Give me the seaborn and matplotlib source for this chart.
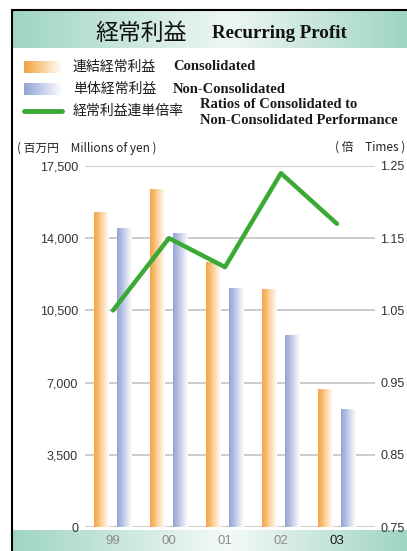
import numpy as np
import pandas as pd
import matplotlib
matplotlib.use("Agg")
import matplotlib.pyplot as plt
import seaborn as sns
from matplotlib.colors import LinearSegmentedColormap

years = ["99", "00", "01", "02", "03"]
consolidated = [15270, 16370, 12840, 11530, 6690]
non_consolidated = [14500, 14260, 11600, 9320, 5720]
ratios = [1.05, 1.15, 1.11, 1.24, 1.17]
left_ticks = [0, 3500, 7000, 10500, 14000, 17500]
right_ticks = [0.75, 0.85, 0.95, 1.05, 1.15, 1.25]
series_names = ["連結経常利益", "単体経常利益"]

W, H = 407, 551
sns.set_theme(style="white")
plt.rcParams['font.family'] = ['Liberation Sans', 'DejaVu Sans']
fig = plt.figure(figsize=(W / 100, H / 100), dpi=100)
fig.patch.set_facecolor("white")

def px_axes(x0, y0, x1, y1, **kw):
    return fig.add_axes([x0 / W, 1 - y1 / H, (x1 - x0) / W, (y1 - y0) / H], **kw)

def hgrad(ax, stops, extent=None, clip=None, zorder=1):
    cmap = LinearSegmentedColormap.from_list("g", stops)
    grad = np.linspace(0, 1, 256).reshape(1, -1)
    kw = {}
    if extent is not None:
        kw["extent"] = extent
    im = ax.imshow(grad, cmap=cmap, aspect="auto", interpolation="bicubic", zorder=zorder, **kw)
    if clip is not None:
        im.set_clip_path(clip)
    return im

teal = "#9fd5c1"
hax = px_axes(12, 10, 407, 48)
hgrad(hax, [(0, teal), (0.55, "#eef7f3"), (1, teal)])
hax.set_axis_off()
bax = px_axes(12, 530, 407, 551)
hgrad(bax, [(0, teal), (0.55, "#f4faf7"), (1, teal)])
bax.set_axis_off()

fig.add_artist(plt.Line2D([12 / W, 12 / W], [0, 1 - 10 / H], color="black", lw=1.5, transform=fig.transFigure))
fig.add_artist(plt.Line2D([12 / W, 1], [1 - 10 / H, 1 - 10 / H], color="black", lw=1.5, transform=fig.transFigure))

fig.text(187 / W, 1 - 33 / H, "経常利益", family=["Noto Sans CJK JP"], fontsize=16.5, ha="right", va="center", color="#111111")
fig.text(212 / W, 1 - 34 / H, "Recurring Profit", family=["Liberation Serif"], fontweight="bold", fontsize=13.7, ha="left", va="center", color="#111111")

orange_stops = [(0, "#f5a23f"), (0.35, "#f9c27e"), (1, "#ffffff")]
blue_stops = [(0, "#93a4d4"), (0.35, "#b6c1e3"), (1, "#ffffff")]
for yc, stops in [(67, orange_stops), (89, blue_stops)]:
    lax = px_axes(24, yc - 6, 62, yc + 6)
    hgrad(lax, stops)
    lax.set_axis_off()
fig.add_artist(plt.Line2D([24 / W, 62 / W], [1 - 111 / H, 1 - 111 / H], color="#3aaa35", lw=3.5, transform=fig.transFigure, solid_capstyle="round"))
cjk = ["Noto Sans CJK JP"]
fig.text(73 / W, 1 - 67 / H, series_names[0], family=cjk, fontsize=10, va="center", color="#1a1a1a")
fig.text(73 / W, 1 - 89 / H, series_names[1], family=cjk, fontsize=10, va="center", color="#1a1a1a")
fig.text(73 / W, 1 - 111 / H, "経常利益連単倍率", family=cjk, fontsize=10, va="center", color="#1a1a1a")
serif = dict(family=["Liberation Serif"], fontweight="bold", fontsize=10.5, va="center", color="#1a1a1a")
fig.text(173 / W, 1 - 67 / H, "Consolidated", **serif)
fig.text(173 / W, 1 - 89 / H, "Non-Consolidated", **serif)
fig.text(200 / W, 1 - 104 / H, "Ratios of Consolidated to", **serif)
fig.text(200 / W, 1 - 120 / H, "Non-Consolidated Performance", **serif)

fig.text(17 / W, 1 - 148 / H, "( 百万円　Millions of yen )", family=["Noto Sans CJK JP", "DejaVu Sans"], fontsize=8.5, va="center", color="#222222")
fig.text(405 / W, 1 - 147 / H, "( 倍　Times )", family=["Noto Sans CJK JP", "DejaVu Sans"], fontsize=8.5, va="center", ha="right", color="#222222")

ax = px_axes(85, 166, 375, 527)
ax.set_facecolor("none")
df = pd.DataFrame({
    "year": years * 2,
    "value": consolidated + non_consolidated,
    "series": [series_names[0]] * len(years) + [series_names[1]] * len(years),
})
sns.barplot(data=df, x="year", y="value", hue="series", order=years, hue_order=series_names,
            width=0.84, gap=0.38, ax=ax, legend=False, zorder=2, linewidth=0)
for p in list(ax.patches):
    x0, y0 = p.get_x(), p.get_y()
    w, h = p.get_width(), p.get_height()
    if h <= 0:
        continue
    xc = x0 + w / 2
    stops = orange_stops if xc < np.floor(xc + 0.5) else blue_stops
    hgrad(ax, stops, extent=[x0, x0 + w, y0, y0 + h], clip=p, zorder=3)
    p.set_facecolor("none")
ax.set_xlim(-0.5, 4.68)
ax.set_ylim(0, 17500)
ax.set_yticks(left_ticks)
ax.set_yticklabels([f"{v:,}" for v in left_ticks], fontsize=9, color="#333333")
ax.yaxis.grid(True, color="#c8c8c8", lw=1.3, zorder=0)
ax.set_axisbelow(True)
ax.tick_params(axis="y", length=0, pad=5)
ax.set_xticks(range(len(years)))
ax.set_xticklabels(years, fontsize=9.5)
ax.tick_params(axis="x", length=0, pad=6)
for i, t in enumerate(ax.get_xticklabels()):
    t.set_color("#1a1a1a" if i == len(years) - 1 else "#8c8c8c")
ax.set_xlabel("")
ax.set_ylabel("")
for s in ax.spines.values():
    s.set_visible(False)

ax2 = ax.twinx()
sns.lineplot(x=list(range(len(years))), y=ratios, ax=ax2, color="#3aaa35", lw=3.2, zorder=5)
ax2.set_ylim(0.75, 1.25)
ax2.set_xlim(-0.5, 4.68)
ax2.set_yticks(right_ticks)
ax2.set_yticklabels([f"{v:.2f}" for v in right_ticks], fontsize=9, color="#333333")
ax2.tick_params(axis="y", length=0, pad=4)
ax2.grid(False)
for s in ax2.spines.values():
    s.set_visible(False)

fig.savefig("out.png", dpi=100)
